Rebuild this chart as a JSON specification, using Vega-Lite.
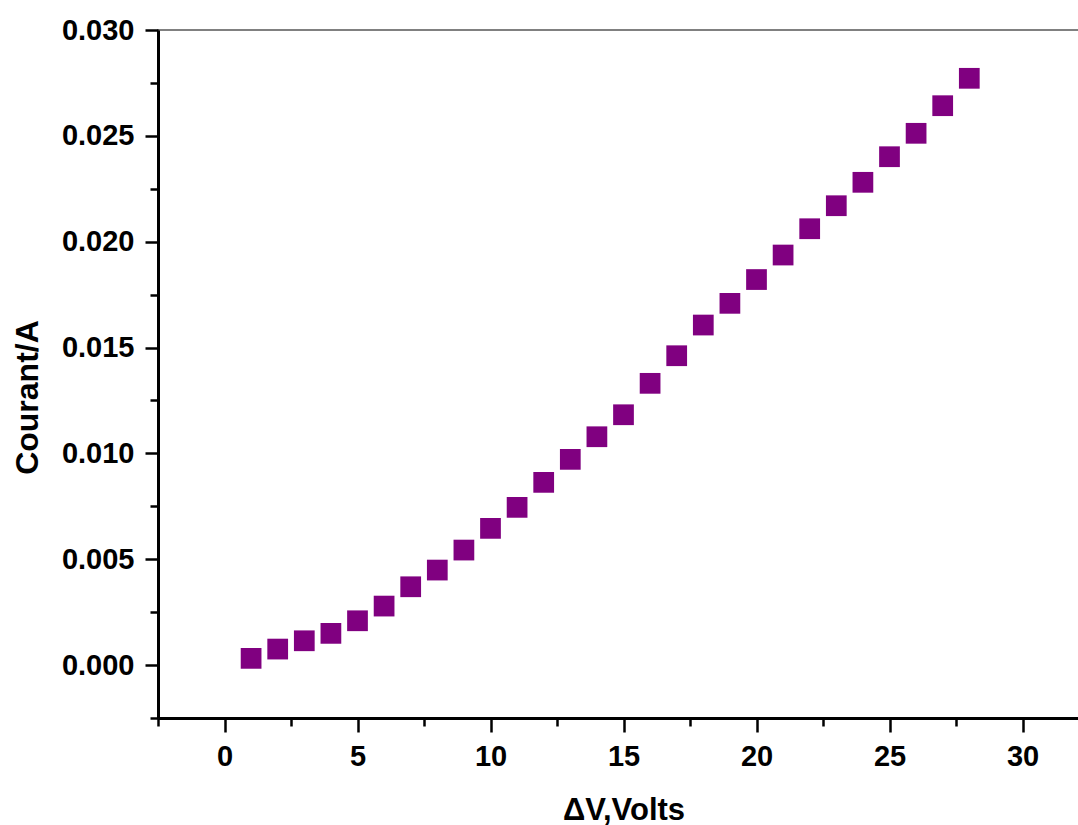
{
  "$schema": "https://vega.github.io/schema/vega-lite/v6.json",
  "width": 931,
  "height": 688,
  "autosize": {"type": "none"},
  "padding": {"left": 158, "top": 30, "right": 0, "bottom": 107},
  "background": "white",
  "view": {"stroke": "#808080", "strokeWidth": 2},
  "config": {
    "font": "Liberation Sans",
    "axis": {
      "domainColor": "black",
      "domainWidth": 3,
      "tickColor": "black",
      "tickWidth": 2.5,
      "grid": false,
      "labelFont": "Liberation Sans",
      "labelFontWeight": "bold",
      "labelFontSize": 29,
      "labelColor": "black",
      "labelOverlap": false,
      "labelFlush": false,
      "titleFont": "Liberation Sans",
      "titleFontWeight": "bold",
      "titleColor": "black"
    }
  },
  "data": {
    "values": [
      {"v": 1, "i": 0.000317},
      {"v": 2, "i": 0.000756},
      {"v": 3, "i": 0.001148},
      {"v": 4, "i": 0.001498},
      {"v": 5, "i": 0.002093},
      {"v": 6, "i": 0.002787},
      {"v": 7, "i": 0.003699},
      {"v": 8, "i": 0.004488},
      {"v": 9, "i": 0.005433},
      {"v": 10, "i": 0.006458},
      {"v": 11, "i": 0.007450},
      {"v": 12, "i": 0.008631},
      {"v": 13, "i": 0.009718},
      {"v": 14, "i": 0.010786},
      {"v": 15, "i": 0.011825},
      {"v": 16, "i": 0.013309},
      {"v": 17, "i": 0.014613},
      {"v": 18, "i": 0.016063},
      {"v": 19, "i": 0.017088},
      {"v": 20, "i": 0.018212},
      {"v": 21, "i": 0.019370},
      {"v": 22, "i": 0.020612},
      {"v": 23, "i": 0.021699},
      {"v": 24, "i": 0.022805},
      {"v": 25, "i": 0.024014},
      {"v": 26, "i": 0.025120},
      {"v": 27, "i": 0.026424},
      {"v": 28, "i": 0.027718}
    ]
  },
  "mark": {"type": "point", "shape": "square", "filled": true, "size": 430, "color": "#800080", "opacity": 1},
  "encoding": {
    "x": {
      "field": "v",
      "type": "quantitative",
      "scale": {"domain": [-2.5, 32.5], "nice": false, "zero": false},
      "axis": {
        "orient": "bottom",
        "title": "ΔV,Volts",
        "titleFontSize": 31,
        "titleBaseline": "alphabetic",
        "titleY": 101,
        "values": [-2.5, 0, 2.5, 5, 7.5, 10, 12.5, 15, 17.5, 20, 22.5, 25, 27.5, 30, 32.5],
        "labelExpr": "datum.value % 5 === 0 ? format(datum.value, 'd') : ''",
        "tickSize": {"condition": {"test": "datum.value % 5 === 0", "value": 14}, "value": 8},
        "labelPadding": 10
      }
    },
    "y": {
      "field": "i",
      "type": "quantitative",
      "scale": {"domain": [-0.0025, 0.03], "nice": false, "zero": false},
      "axis": {
        "orient": "left",
        "title": "Courant/A",
        "titleFontSize": 32,
        "titleAngle": -90,
        "titleAlign": "center",
        "titleBaseline": "alphabetic",
        "titleX": -121,
        "titleY": 367,
        "values": [-0.0025, 0, 0.0025, 0.005, 0.0075, 0.01, 0.0125, 0.015, 0.0175, 0.02, 0.0225, 0.025, 0.0275, 0.03],
        "labelExpr": "abs(datum.value * 200 - round(datum.value * 200)) < 0.001 ? format(datum.value, '.3f') : ''",
        "tickSize": {"condition": {"test": "abs(datum.value * 200 - round(datum.value * 200)) < 0.001", "value": 13}, "value": 8},
        "labelPadding": 11
      }
    }
  }
}
